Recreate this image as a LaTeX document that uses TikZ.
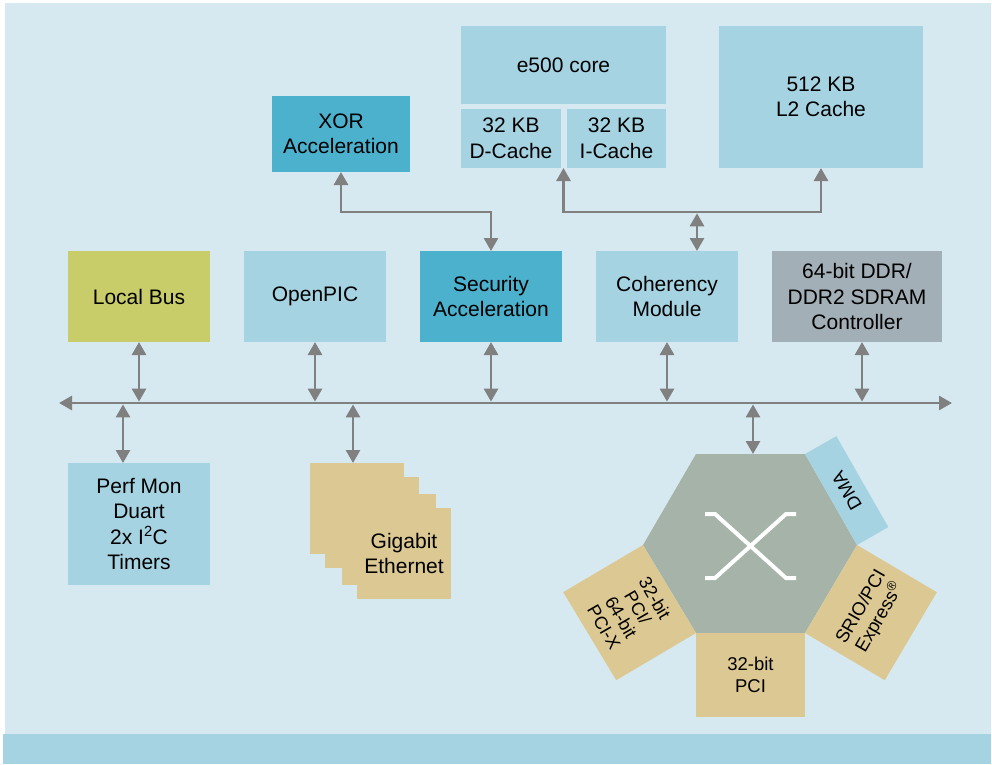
\documentclass[tikz,border=0pt]{standalone}
\usepackage{fontspec}
\setmainfont{Liberation Sans}
\usetikzlibrary{arrows.meta,calc}
\definecolor{bgc}{HTML}{D6E9F0}
\definecolor{barc}{HTML}{A5D3E2}
\definecolor{lblue}{HTML}{A6D3E2}
\definecolor{teal}{HTML}{4BB1CD}
\definecolor{olive}{HTML}{C8CC69}
\definecolor{ddrc}{HTML}{A3AFB6}
\definecolor{tan}{HTML}{DCC892}
\definecolor{hexc}{HTML}{A5B3A9}
\definecolor{arrc}{HTML}{808080}
\tikzset{
  blk/.style={inner sep=0pt, outer sep=0pt, align=center, font=\fontsize{21}{25.5}\selectfont},
  smalltxt/.style={inner sep=0pt, outer sep=0pt, align=center, font=\fontsize{18.5}{21.5}\selectfont},
  tipA/.tip={Triangle[width=14pt,length=13pt]},
  arr/.style={draw=arrc, line width=2.8pt, tipA-tipA},
}
\begin{document}
\begin{tikzpicture}[x=1pt,y=-1pt]
\useasboundingbox (0,0) rectangle (992,764);
\fill[white] (0,0) rectangle (992,764);
\fill[bgc] (5,3) rectangle (991,734);
\fill[barc] (3,734) rectangle (991,764);

% top boxes
\node[blk, fill=teal, minimum width=138pt, minimum height=76pt] (xor) at (341,134) {XOR\\Acceleration};
\node[blk, fill=lblue, minimum width=205pt, minimum height=78pt] (core) at (563.5,65) {e500 core};
\node[blk, fill=lblue, minimum width=100pt, minimum height=59pt] (dc) at (511,138.5) {32 KB\\D-Cache};
\node[blk, fill=lblue, minimum width=99pt, minimum height=59pt] (ic) at (616.5,138.5) {32 KB\\I-Cache};
\node[blk, fill=lblue, minimum width=204pt, minimum height=142pt] (l2) at (821,97) {512 KB\\L2 Cache};

% middle row
\node[blk, fill=olive, minimum width=142pt, minimum height=91pt] (lbus) at (139,296.5) {Local Bus};
\node[blk, fill=lblue, minimum width=142pt, minimum height=91pt] (opic) at (315,296.5) {OpenPIC};
\node[blk, fill=teal, minimum width=142pt, minimum height=91pt] (sec) at (491,296.5) {Security\\Acceleration};
\node[blk, fill=lblue, minimum width=142pt, minimum height=91pt] (coh) at (667,296.5) {Coherency\\Module};
\node[blk, fill=ddrc, minimum width=170pt, minimum height=91pt] (ddr) at (857,296.5) {64-bit DDR/\\DDR2 SDRAM\\Controller};

% bottom left
\node[blk, fill=lblue, minimum width=142pt, minimum height=122pt] (perf) at (139,524) {Perf Mon\\Duart\\2x I\textsuperscript{2}C\\Timers};
\node[blk, fill=tan, minimum width=94pt, minimum height=91pt] (g1) at (357,508.5) {};
\node[blk, fill=tan, minimum width=94pt, minimum height=91pt] (g2) at (372,522.5) {};
\node[blk, fill=tan, minimum width=94pt, minimum height=91pt] (g3) at (389,539.5) {};
\node[blk, fill=tan, minimum width=94pt, minimum height=91pt] (g4) at (404,553.5) {Gigabit\\Ethernet};

% hexagon switch
\coordinate (h1) at (696,454);
\coordinate (h2) at (805,454);
\coordinate (h3) at (857,545);
\coordinate (h4) at (805,633);
\coordinate (h5) at (696,633);
\coordinate (h6) at (643,545);
\coordinate (hextop) at (753,454);
\fill[hexc] (h1) -- (h2) -- (h3) -- (h4) -- (h5) -- (h6) -- cycle;
\fill[lblue] (h2) -- ++(31.3,-17.9) -- ($(h3)+(31.3,-17.9)$) -- (h3) -- cycle;
\fill[tan] (h4) -- (h3) -- ++(79.8,47.2) -- ($(h4)+(79.8,47.2)$) -- cycle;
\fill[tan] (h6) -- (h5) -- ++(-79.8,47.2) -- ($(h6)+(-79.8,47.2)$) -- cycle;
\node[smalltxt, fill=tan, minimum width=109pt, minimum height=84pt] (pci) at (750.5,675) {32-bit\\PCI};
\node[smalltxt, rotate=120] (dma) at (846.7,490.6) {DMA};
\node[smalltxt, rotate=60] (srio) at (870.9,612.6) {SRIO/PCI\\Express\textsuperscript{®}};
\node[smalltxt, rotate=-60, font=\fontsize{18}{19.5}\selectfont] (pcix) at (629.6,612.6) {32-bit\\PCI/\\64-bit\\PCI-X};
\draw[white, line width=4pt] (705,514) -- (715,514) -- (786,578) -- (796,578);
\draw[white, line width=4pt] (796,514) -- (786,514) -- (715,578) -- (705,578);

% bus
\coordinate (busL) at (59,403);
\coordinate (busR) at (952,403);
\coordinate (busT) at (0,401.6);
\coordinate (busB) at (0,404.4);
\draw[arr] (busL) -- (busR);

\draw[arr] (lbus.south) -- (lbus.south |- busT);
\draw[arr] (opic.south) -- (opic.south |- busT);
\draw[arr] (sec.south) -- (sec.south |- busT);
\draw[arr] (coh.south) -- (coh.south |- busT);
\draw[arr] ([xshift=5pt]ddr.south) -- ([xshift=5pt]ddr.south |- busT);
\draw[arr] ([xshift=-16pt]perf.north |- busB) -- ([xshift=-16pt]perf.north);
\draw[arr] ([xshift=-4pt]g1.north |- busB) -- ([xshift=-4pt]g1.north);
\draw[arr] (hextop |- busB) -- (hextop);

% top connections
\coordinate (topY) at (0,212);
\coordinate (cohJ) at (697,213.3);
\draw[arr] (xor.south) -- (xor.south |- topY) -| (sec.north);
\draw[arr] (core.south |- dc.south) -- (core.south |- topY) -| (l2.south);
\draw[arr] (cohJ) -- (cohJ |- coh.north);
\end{tikzpicture}
\end{document}
